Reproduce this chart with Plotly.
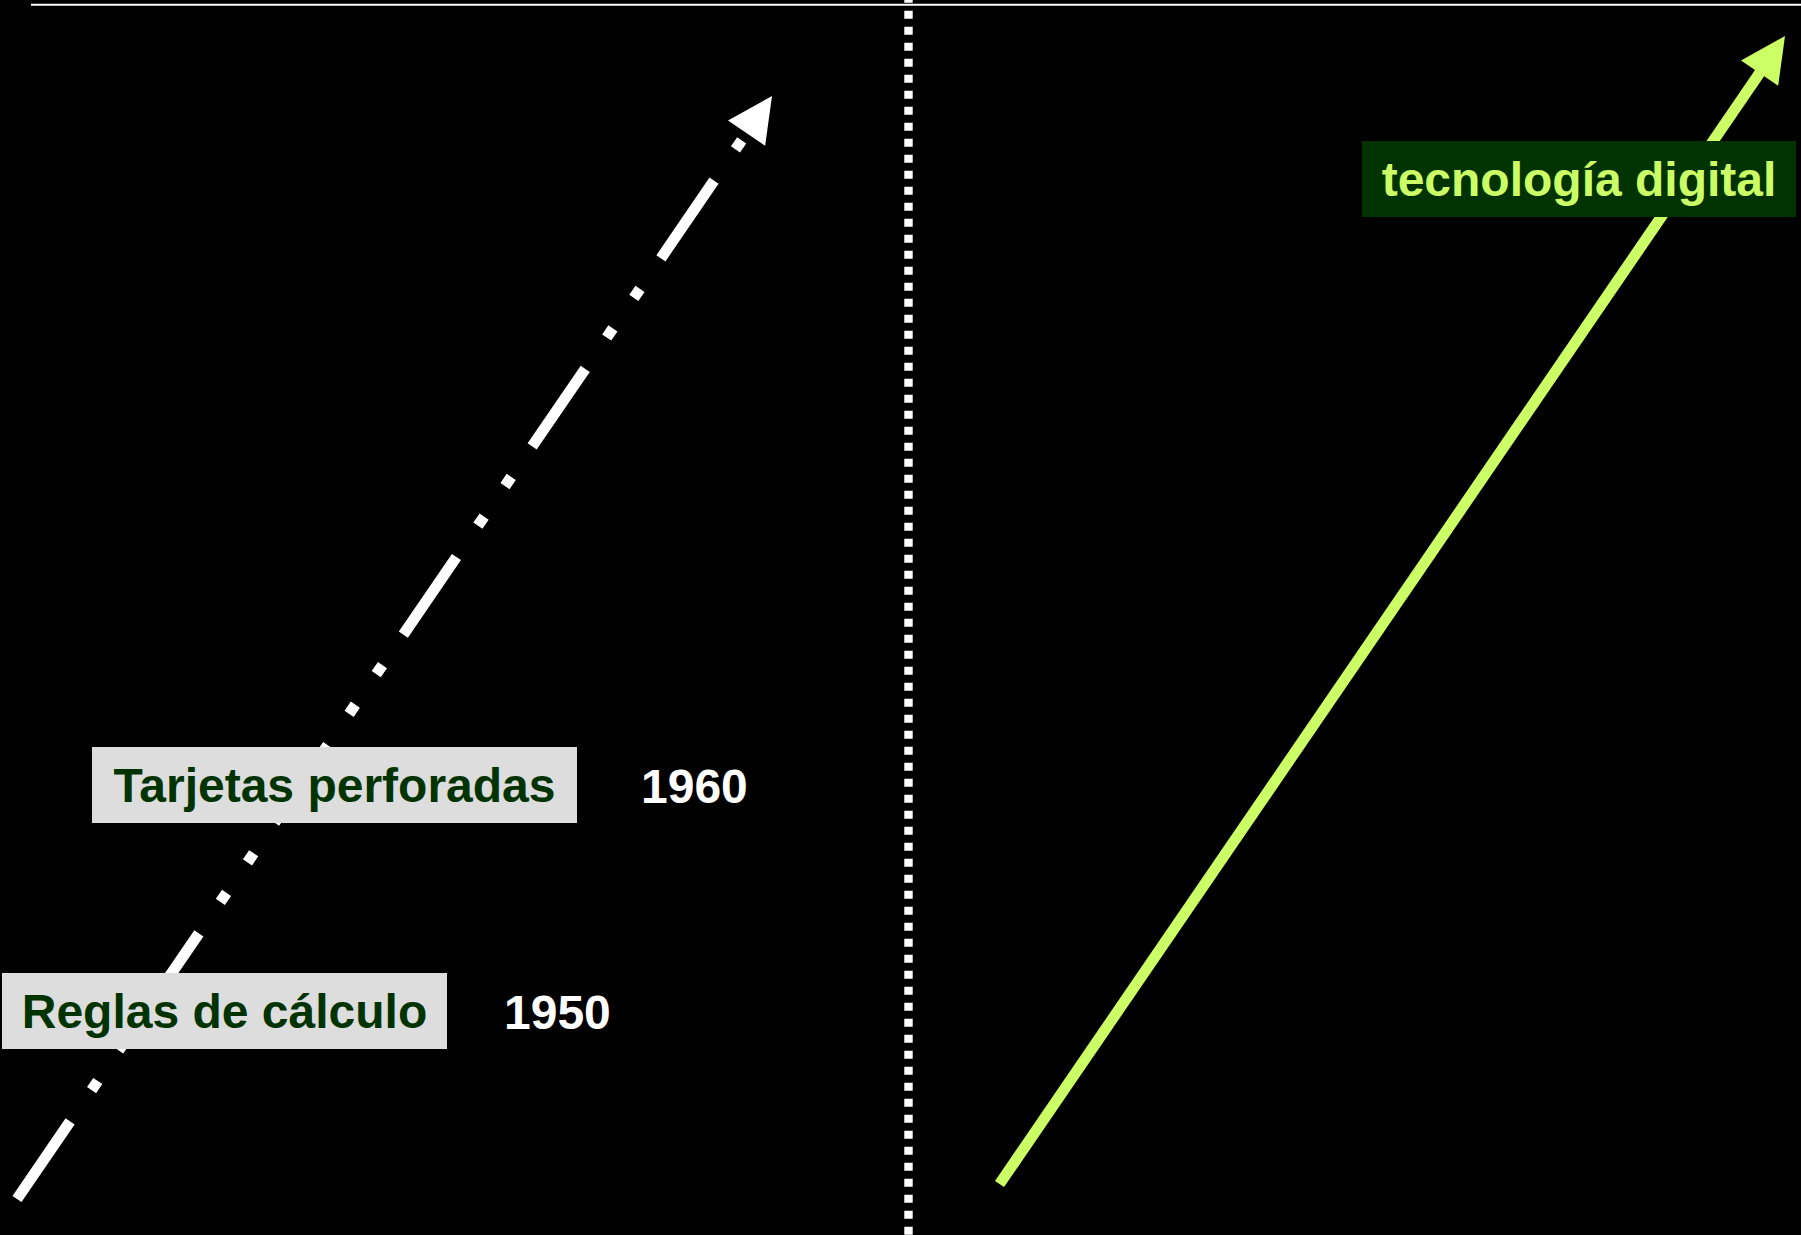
import numpy as np
import plotly.graph_objects as go

# ---- data (diagram coordinates, 1 unit = 1 px of the canvas, y grows downward) ----
analog_trend_x = [17, 772]        # white dash-dot trend: start, tip
analog_trend_y = [1199, 96]
digital_trend_x = [999.5, 1785]   # green trend: start, tip
digital_trend_y = [1184, 36]
divider_x = [908.5, 908.5]
divider_y = [-5.3, 1240]
topline_x = [31, 1801]
topline_y = [4.8, 4.8]

box_labels = ["Tarjetas perforadas", "Reglas de cálculo", "tecnología digital"]
box_x = [334.5, 224.5, 1579]
box_y = [784.5, 1011, 179]
box_w = [485, 445, 434]

year_labels = ["1960", "1950"]
year_x = [694, 557.7]
year_y = [786, 1012]

W, H = 1801, 1235
WHITE = "#FFFFFF"
LIME = "#CCFF66"
DKGREEN = "#003300"
GREY = "#DDDDDD"
FONT = "Liberation Sans, Arial, sans-serif"


def arrow_head(xs, ys, length=45.0, half=22.5):
    x0, y0, x1, y1 = xs[0], ys[0], xs[1], ys[1]
    d = np.array([x1 - x0, y1 - y0], dtype=float)
    u = d / np.linalg.norm(d)
    p = np.array([-u[1], u[0]])
    tip = np.array([x1, y1])
    base = tip - u * length
    c1 = base + p * half
    c2 = base - p * half
    return ([tip[0], c1[0], c2[0], tip[0]], [tip[1], c1[1], c2[1], tip[1]], base)


fig = go.Figure()

# top rule
fig.add_trace(go.Scatter(x=topline_x, y=topline_y, mode="lines",
                         line=dict(color=WHITE, width=2), hoverinfo="skip", showlegend=False))
# dotted divider
fig.add_trace(go.Scatter(x=divider_x, y=divider_y, mode="lines",
                         line=dict(color=WHITE, width=8.4, dash="8px,8px"),
                         hoverinfo="skip", showlegend=False))

# analog (white dash-dot) trend
hx, hy, base = arrow_head(analog_trend_x, analog_trend_y)
fig.add_trace(go.Scatter(x=[analog_trend_x[0], base[0]], y=[analog_trend_y[0], base[1]],
                         mode="lines",
                         line=dict(color=WHITE, width=11, dash="94px,38px,11px,37px,11px,37px"),
                         hoverinfo="skip", showlegend=False))
fig.add_trace(go.Scatter(x=hx, y=hy, mode="lines", fill="toself", fillcolor=WHITE,
                         line=dict(width=0, color=WHITE), hoverinfo="skip", showlegend=False))

# digital (green) trend
hx, hy, base = arrow_head(digital_trend_x, digital_trend_y)
fig.add_trace(go.Scatter(x=[digital_trend_x[0], base[0] - (base[0] - digital_trend_x[1]) * 0.1],
                         y=[digital_trend_y[0], base[1] - (base[1] - digital_trend_y[1]) * 0.1],
                         mode="lines", line=dict(color=LIME, width=11),
                         hoverinfo="skip", showlegend=False))
fig.add_trace(go.Scatter(x=hx, y=hy, mode="lines", fill="toself", fillcolor=LIME,
                         line=dict(width=0, color=LIME), hoverinfo="skip", showlegend=False))

annotations = []
for i, (t, x, y, w) in enumerate(zip(box_labels, box_x, box_y, box_w)):
    digital = i == 2
    annotations.append(dict(
        text=t, x=x, y=y, xref="x", yref="y", showarrow=False,
        width=w, height=76, borderpad=0, borderwidth=0,
        bgcolor=DKGREEN if digital else GREY,
        font=dict(family=FONT, size=48, weight="bold", color=LIME if digital else DKGREEN),
        xanchor="center", yanchor="middle", align="center", valign="middle"))
for t, x, y in zip(year_labels, year_x, year_y):
    annotations.append(dict(
        text=t, x=x, y=y, xref="x", yref="y", showarrow=False,
        font=dict(family=FONT, size=48, weight="bold", color=WHITE),
        xanchor="center", yanchor="middle"))

fig.update_layout(
    width=W, height=H, autosize=False,
    margin=dict(l=0, r=0, t=0, b=0, pad=0),
    paper_bgcolor="#000000", plot_bgcolor="#000000",
    xaxis=dict(range=[0, W], visible=False, showgrid=False, zeroline=False, fixedrange=True),
    yaxis=dict(range=[H, 0], visible=False, showgrid=False, zeroline=False, fixedrange=True),
    annotations=annotations,
    showlegend=False,
)

fig.write_html(
    "out.html",
    config={"displayModeBar": False, "staticPlot": True},
    post_script="document.body.style.margin='0';document.body.style.padding='0';"
                "document.body.style.background='#000';document.body.style.overflow='hidden';",
)
